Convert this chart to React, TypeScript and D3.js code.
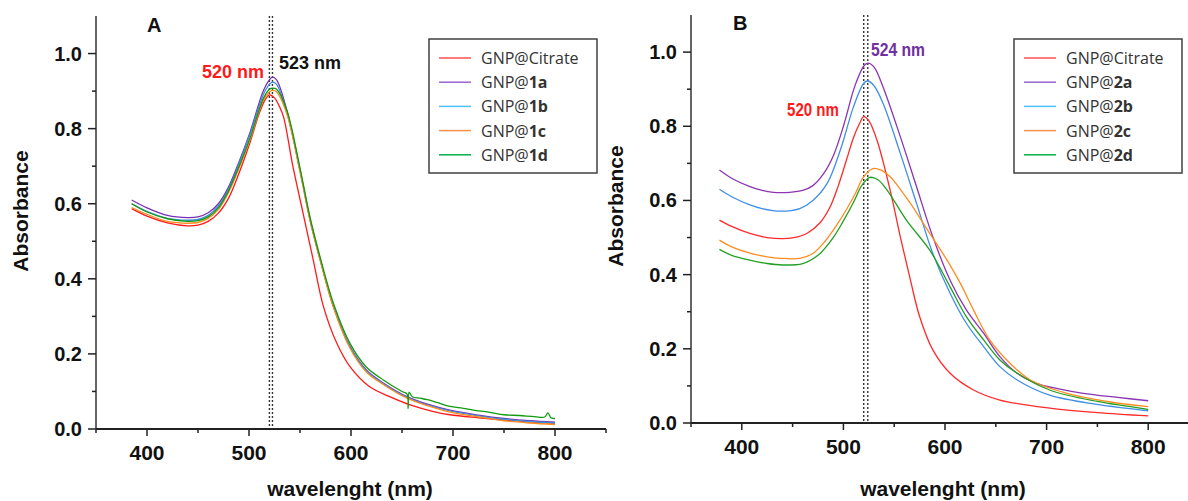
import React from 'react';
import * as d3 from 'd3';

// ---------- DATA ----------
const xMajorTicks = [400, 500, 600, 700, 800];
const xMinorTicks = [350, 450, 550, 650, 750, 850];
const yMajorTicks = [0, 0.2, 0.4, 0.6, 0.8, 1.0];
const yMinorTicks = [0.1, 0.3, 0.5, 0.7, 0.9];

const legendA = ['Citrate', '1a', '1b', '1c', '1d'];
const legendB = ['Citrate', '2a', '2b', '2c', '2d'];

const A_citrate: [number, number][] = [
  [385, 0.587], [400, 0.567], [420, 0.549], [440, 0.541], [450, 0.543], [460, 0.553], [470, 0.575],
  [480, 0.615], [490, 0.68], [500, 0.755], [510, 0.84], [516, 0.878], [520, 0.89], [525, 0.882],
  [530, 0.858], [534, 0.83], [543, 0.7], [553, 0.575], [563, 0.45], [573, 0.326], [586, 0.229],
  [599, 0.166], [618, 0.113], [638, 0.086], [658, 0.064], [680, 0.047], [697, 0.038], [725, 0.03],
  [750, 0.024], [775, 0.019], [800, 0.015],
];
const A_1a: [number, number][] = [
  [385, 0.61], [400, 0.589], [420, 0.569], [440, 0.563], [450, 0.565], [460, 0.576], [470, 0.6],
  [480, 0.645], [490, 0.71], [501, 0.79], [514, 0.9], [520, 0.93], [523, 0.937], [527, 0.93],
  [537, 0.85], [550, 0.69], [560, 0.557], [570, 0.45], [583, 0.326], [599, 0.22], [615, 0.157],
  [632, 0.122], [655, 0.086], [675, 0.066], [697, 0.05], [725, 0.037], [750, 0.028], [775, 0.022], [800, 0.018],
];
const A_1b: [number, number][] = [
  [385, 0.6], [400, 0.58], [420, 0.561], [440, 0.556], [450, 0.558], [460, 0.569], [470, 0.594],
  [480, 0.64], [490, 0.705], [501, 0.785], [514, 0.89], [520, 0.918], [523, 0.924], [527, 0.918],
  [537, 0.845], [550, 0.688], [560, 0.555], [570, 0.448], [583, 0.324], [599, 0.218], [615, 0.155],
  [632, 0.12], [655, 0.084], [675, 0.064], [697, 0.048], [725, 0.035], [750, 0.026], [775, 0.02], [800, 0.016],
];
const A_1c: [number, number][] = [
  [385, 0.59], [400, 0.572], [420, 0.553], [440, 0.548], [450, 0.55], [460, 0.561], [470, 0.585],
  [480, 0.63], [490, 0.693], [501, 0.77], [514, 0.875], [520, 0.898], [523, 0.902], [527, 0.898],
  [537, 0.84], [550, 0.685], [560, 0.553], [570, 0.447], [583, 0.322], [599, 0.215], [615, 0.152],
  [632, 0.118], [655, 0.082], [675, 0.062], [697, 0.045], [725, 0.032], [750, 0.022], [775, 0.016], [800, 0.012],
];
const A_1d: [number, number][] = [
  [385, 0.6], [400, 0.578], [420, 0.56], [440, 0.553], [450, 0.555], [460, 0.565], [470, 0.589],
  [480, 0.635], [490, 0.698], [501, 0.775], [514, 0.88], [520, 0.905], [523, 0.908], [527, 0.905],
  [537, 0.85], [550, 0.695], [560, 0.562], [570, 0.455], [583, 0.333], [599, 0.228], [615, 0.165],
  [632, 0.13], [650, 0.1], [655, 0.093], [656, 0.055], [657, 0.098], [660, 0.086], [668, 0.082],
  [675, 0.078], [685, 0.07], [697, 0.06], [710, 0.055], [720, 0.05], [735, 0.045], [750, 0.038],
  [765, 0.036], [780, 0.033], [790, 0.032], [793, 0.043], [796, 0.03], [800, 0.028],
];

const B_citrate: [number, number][] = [
  [378, 0.547], [390, 0.53], [408, 0.511], [425, 0.5], [441, 0.497], [455, 0.502], [464, 0.511],
  [477, 0.54], [487, 0.583], [495, 0.64], [503, 0.709], [510, 0.77], [516, 0.808], [520, 0.826],
  [525, 0.815], [533, 0.763], [546, 0.628], [556, 0.502], [566, 0.385], [575, 0.287], [588, 0.197],
  [605, 0.134], [628, 0.089], [654, 0.062], [703, 0.04], [750, 0.028], [800, 0.019],
];
const B_2a: [number, number][] = [
  [378, 0.682], [390, 0.66], [408, 0.637], [420, 0.627], [431, 0.622], [447, 0.622], [460, 0.627],
  [470, 0.64], [480, 0.67], [490, 0.72], [500, 0.8], [510, 0.898], [515, 0.935], [520, 0.962],
  [524, 0.97], [530, 0.96], [539, 0.906], [556, 0.772], [572, 0.637], [588, 0.502], [605, 0.385],
  [621, 0.305], [638, 0.242], [654, 0.179], [671, 0.134], [690, 0.107], [712, 0.092], [736, 0.08],
  [770, 0.069], [800, 0.06],
];
const B_2b: [number, number][] = [
  [378, 0.63], [390, 0.61], [408, 0.588], [420, 0.578], [438, 0.571], [457, 0.578], [470, 0.6],
  [484, 0.646], [497, 0.736], [510, 0.853], [520, 0.916], [524, 0.922], [530, 0.91], [539, 0.862],
  [556, 0.727], [572, 0.592], [588, 0.457], [605, 0.35], [621, 0.269], [638, 0.206], [654, 0.152],
  [671, 0.116], [703, 0.075], [750, 0.05], [800, 0.033],
];
const B_2c: [number, number][] = [
  [378, 0.493], [390, 0.475], [408, 0.458], [425, 0.448], [438, 0.444], [457, 0.444], [470, 0.457],
  [482, 0.49], [495, 0.54], [505, 0.585], [512, 0.62], [520, 0.664], [529, 0.686], [537, 0.682],
  [546, 0.664], [556, 0.63], [566, 0.592], [585, 0.511], [602, 0.439], [615, 0.377], [628, 0.305],
  [644, 0.224], [664, 0.161], [684, 0.116], [720, 0.08], [760, 0.058], [800, 0.044],
];
const B_2d: [number, number][] = [
  [378, 0.468], [390, 0.452], [410, 0.438], [425, 0.43], [440, 0.426], [460, 0.43], [475, 0.452],
  [490, 0.5], [500, 0.545], [510, 0.595], [518, 0.64], [526, 0.662], [534, 0.656], [543, 0.628],
  [562, 0.547], [585, 0.466], [605, 0.367], [621, 0.287], [638, 0.224], [654, 0.17], [671, 0.134],
  [703, 0.089], [750, 0.058], [800, 0.037],
];

const seriesA = [A_citrate, A_1a, A_1b, A_1c, A_1d];
const seriesB = [B_citrate, B_2a, B_2b, B_2c, B_2d];

// ---------- STYLE ----------
const curveColorsA = ['#ff1a1a', '#7a2fb0', '#3d8fe0', '#ff8a1a', '#129a12'];
const curveColorsB = ['#ff2a2a', '#8a34b4', '#3f8ee6', '#ff8c22', '#22a022'];
const legendColors = ['#ff5050', '#9966cc', '#4cc3f5', '#f7924a', '#00b050'];

const FONT = '"Liberation Sans", Arial, sans-serif';
const LFONT = '"Open Sans", sans-serif';

type PanelProps = {
  series: [number, number][][];
  colors: string[];
  legend: string[];
  xr: [number, number];
  yr: [number, number];
  letter: string;
  letterX: number;
  letterY: number;
  legendX: number;
  legendY: number;
  dashes: number[];
  yLabelX: number;
  yLabelY: number;
  xLabelX: number;
  annotations: { text: string; x: number; y: number; color: string; len?: number }[];
};

function Panel(p: PanelProps) {
  const x = d3.scaleLinear().domain([350, 850]).range(p.xr);
  const y = d3.scaleLinear().domain([0, 1.1]).range(p.yr);
  const line = d3
    .line<[number, number]>()
    .x((d) => x(d[0]))
    .y((d) => y(d[1]))
    .curve(d3.curveCatmullRom.alpha(0.5));
  const y0 = y(0);
  const x0 = x(350);
  return (
    <g>
      {p.dashes.map((w, i) => (
        <line key={'d' + i} x1={x(w)} x2={x(w)} y1={y(1.1)} y2={y0} stroke="#333" strokeWidth={1.4} strokeDasharray="2,2" />
      ))}
      {p.series.map((s, i) => (
        <path key={'s' + i} d={line(s) || ''} fill="none" stroke={p.colors[i]} strokeWidth={1.3} />
      ))}
      <line x1={x0} x2={x0} y1={y(1.1)} y2={y0} stroke="#666" strokeWidth={2} />
      {yMajorTicks.map((t) => (
        <g key={'ym' + t}>
          <line x1={x0 - 8} x2={x0} y1={y(t)} y2={y(t)} stroke="#222" strokeWidth={1.5} />
          <text x={x0 - 14} y={y(t) + 7} textAnchor="end" fontFamily={FONT} fontWeight="bold" fontSize={20} fill="#111">
            {t.toFixed(1)}
          </text>
        </g>
      ))}
      {yMinorTicks.map((t) => (
        <line key={'yn' + t} x1={x0 - 4} x2={x0} y1={y(t)} y2={y(t)} stroke="#222" strokeWidth={1.5} />
      ))}
      <line x1={x0} x2={x(850)} y1={y0} y2={y0} stroke="#222" strokeWidth={2} />
      {xMajorTicks.map((t) => (
        <g key={'xm' + t}>
          <line x1={x(t)} x2={x(t)} y1={y0} y2={y0 + 7} stroke="#222" strokeWidth={1.5} />
          <text x={x(t)} y={y0 + 31} textAnchor="middle" fontFamily={FONT} fontWeight="bold" fontSize={21} fill="#111">
            {t}
          </text>
        </g>
      ))}
      {xMinorTicks.map((t) => (
        <line key={'xn' + t} x1={x(t)} x2={x(t)} y1={y0} y2={y0 + 4} stroke="#222" strokeWidth={1.5} />
      ))}
      <text
        transform={`translate(${p.yLabelX},${p.yLabelY}) rotate(-90)`}
        textAnchor="middle"
        fontFamily={FONT}
        fontWeight="bold"
        fontSize={21}
        fill="#111"
      >
        Absorbance
      </text>
      <text x={p.xLabelX} y={496} textAnchor="middle" fontFamily={FONT} fontWeight="bold" fontSize={21} fill="#111">
        wavelenght (nm)
      </text>
      <text x={p.letterX} y={p.letterY} fontFamily={FONT} fontWeight="bold" fontSize={20} fill="#111">
        {p.letter}
      </text>
      {p.annotations.map((a, i) => (
        <text
          key={'a' + i}
          x={a.x}
          y={a.y}
          fontFamily={FONT}
          fontWeight="bold"
          fontSize={18}
          fill={a.color}
          textLength={a.len}
          lengthAdjust={a.len ? 'spacingAndGlyphs' : undefined}
        >
          {a.text}
        </text>
      ))}
      <rect x={p.legendX} y={p.legendY} width={168} height={134} fill="white" stroke="#404040" strokeWidth={1.5} />
      {p.legend.map((name, i) => {
        const cy = p.legendY + 19 + i * 24.2;
        return (
          <g key={'l' + i}>
            <line x1={p.legendX + 10} x2={p.legendX + 42} y1={cy} y2={cy} stroke={legendColors[i]} strokeWidth={1.5} />
            <text x={p.legendX + 52} y={cy + 6} fontFamily={LFONT} fontSize={16} fill="#333">
              GNP@
              {i === 0 ? <tspan>{name}</tspan> : <tspan fontWeight="bold">{name}</tspan>}
            </text>
          </g>
        );
      })}
    </g>
  );
}

export default function App() {
  return (
    <svg width={1188} height={501} style={{ position: 'absolute', left: 0, top: 0, background: 'white' }}>
      <rect width={1188} height={501} fill="white" />
      <Panel
        series={seriesA}
        colors={curveColorsA}
        legend={legendA}
        xr={[96, 606]}
        yr={[429, 16]}
        letter="A"
        letterX={147}
        letterY={32}
        legendX={429}
        legendY={39}
        dashes={[520, 523]}
        yLabelX={28}
        yLabelY={211}
        xLabelX={350}
        annotations={[
          { text: '520 nm', x: 202, y: 78, color: '#ff1a1a' },
          { text: '523 nm', x: 279, y: 69, color: '#111' },
        ]}
      />
      <Panel
        series={seriesB}
        colors={curveColorsB}
        legend={legendB}
        xr={[691, 1199]}
        yr={[423, 15]}
        letter="B"
        letterX={733}
        letterY={30}
        legendX={1014}
        legendY={39}
        dashes={[520, 524]}
        yLabelX={623}
        yLabelY={206}
        xLabelX={943}
        annotations={[
          { text: '524 nm', x: 871, y: 56, color: '#7030a0', len: 54 },
          { text: '520 nm', x: 787, y: 116, color: '#ff1a1a', len: 52 },
        ]}
      />
    </svg>
  );
}
